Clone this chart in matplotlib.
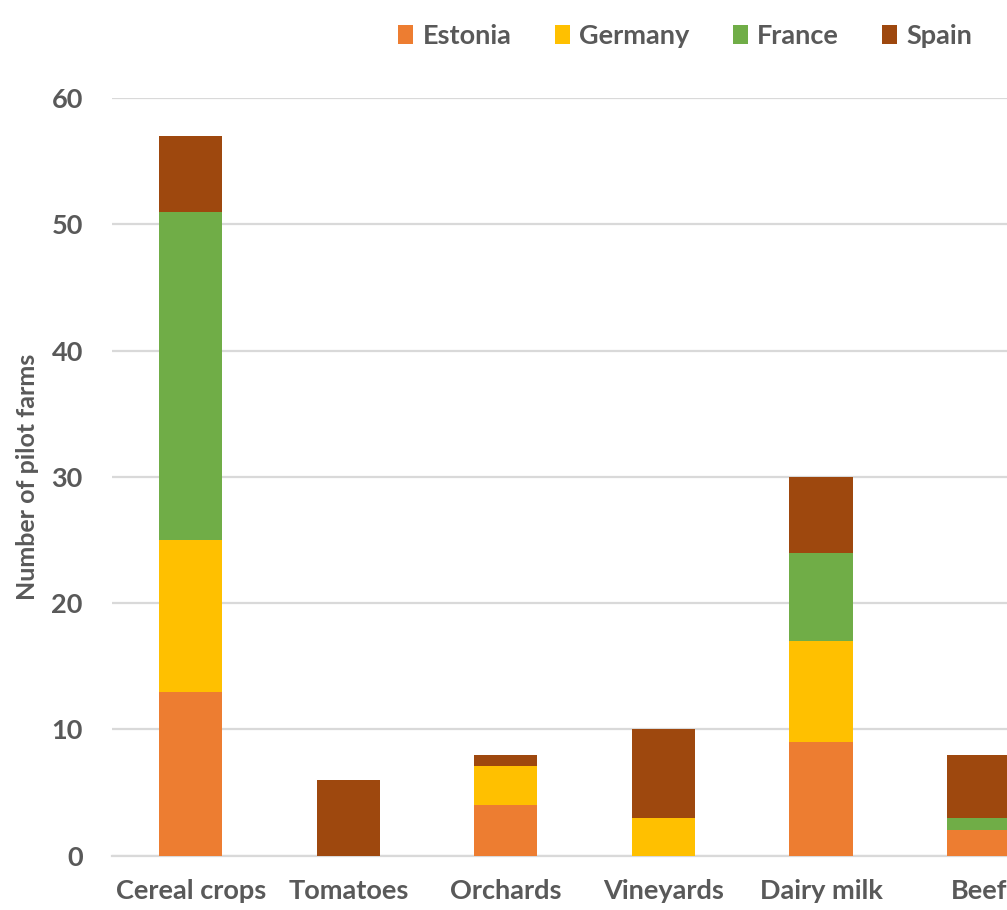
import numpy as np
import matplotlib
matplotlib.use('Agg')
import matplotlib.pyplot as plt
from matplotlib.patches import Patch

plt.rcParams['font.family'] = ['Lato', 'DejaVu Sans']
plt.rcParams['font.weight'] = 'bold'

# Pilot farms per production type and country
categories = ['Cereal crops', 'Tomatoes', 'Orchards', 'Vineyards', 'Dairy milk', 'Beef']
estonia = [13, 0, 4, 0, 9, 2]
germany = [12, 0, 3.1, 3, 8, 0]
france = [26, 0, 0, 0, 7, 1]
spain = [6, 6, 0.9, 7, 6, 5]

series = [('Estonia', estonia, '#ED7D31'),
          ('Germany', germany, '#FFC000'),
          ('France', france, '#70AD47'),
          ('Spain', spain, '#9E480E')]

text_color = '#595959'
grid_color = '#D9D9D9'

fig = plt.figure(figsize=(10.07, 9.10), dpi=100)
# the plot area runs past the right edge, so the last bar is clipped
ax = fig.add_axes([0.1112, 0.0597, 0.9388, 0.8326])

x = np.arange(len(categories))
bottom = np.zeros(len(categories))
for name, values, color in series:
    values = np.array(values, dtype=float)
    ax.bar(x, values, width=0.4, bottom=bottom, color=color, label=name, zorder=3)
    bottom += values

ax.set_xlim(-0.5, len(categories) - 0.5)
ax.set_ylim(0, 60)
ax.set_yticks(range(0, 61, 10))
ax.yaxis.grid(True, color=grid_color, linewidth=1.6, zorder=0)
ax.set_axisbelow(True)

for side in ['top', 'right', 'left']:
    ax.spines[side].set_visible(False)
ax.spines['bottom'].set_color(grid_color)
ax.spines['bottom'].set_linewidth(1.6)

ax.set_xticks(x)
ax.set_xticklabels(categories)
ax.tick_params(axis='both', length=0, labelsize=19.5, labelcolor=text_color)
ax.tick_params(axis='x', pad=17)
ax.tick_params(axis='y', pad=21)

ax.set_ylabel('Number of pilot farms', fontsize=18, fontweight='bold',
              color=text_color, labelpad=9)

handles = [Patch(facecolor=c, label=n) for n, v, c in series]
fig.legend(handles=handles, loc='upper right', bbox_to_anchor=(0.99, 1.0),
           ncol=4, frameon=False, fontsize=19.5, labelcolor=text_color,
           handlelength=0.55, handleheight=0.7, handletextpad=0.35,
           columnspacing=1.6)

plt.savefig('out.png', dpi=100)
